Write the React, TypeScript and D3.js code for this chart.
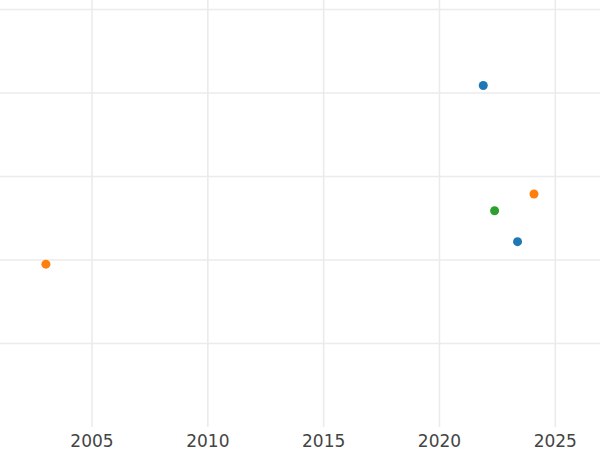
import React from "react";
import * as d3 from "d3";

const seriesNames = ["A", "B", "C"];
const seriesColors = ["#1f77b4", "#ff7f0e", "#2ca02c"];
const pointYears = [2021.89, 2023.37, 2024.08, 2003.01, 2022.38];
const pointValues = [4.09, 2.22, 2.79, 1.95, 2.59];
const pointSeries = [0, 0, 1, 1, 2];
const xTicks = [2005, 2010, 2015, 2020, 2025];
const yTicks = [1, 2, 3, 4, 5];

const W = 600;
const H = 450;

export default function App() {
  const x = d3.scaleLinear().domain([2005, 2025]).range([92, 555.3]);
  const y = d3.scaleLinear().domain([0, 5]).range([427, 9.5]);
  const bottom = y(0);
  return (
    <svg
      width={W}
      height={H}
      style={{ position: "absolute", left: 0, top: 0, background: "#fff" }}
      fontFamily="DejaVu Sans"
    >
      <g>
        {yTicks.map((t) => (
          <line key={"h" + t} x1={0} x2={W} y1={y(t)} y2={y(t)} stroke="#ebebeb" strokeWidth={1.6} />
        ))}
        {xTicks.map((t) => (
          <line key={"v" + t} x1={x(t)} x2={x(t)} y1={0} y2={bottom} stroke="#ebebeb" strokeWidth={1.6} />
        ))}
      </g>
      <g>
        {xTicks.map((t) => (
          <text key={"t" + t} x={x(t)} y={447} textAnchor="middle" fontSize={17} fill="#444">
            {t}
          </text>
        ))}
      </g>
      <g>
        {pointYears.map((yr, i) => (
          <circle
            key={"p" + i}
            cx={x(yr)}
            cy={y(pointValues[i])}
            r={4.5}
            fill={seriesColors[pointSeries[i]]}
          >
            <title>{seriesNames[pointSeries[i]]}</title>
          </circle>
        ))}
      </g>
    </svg>
  );
}
